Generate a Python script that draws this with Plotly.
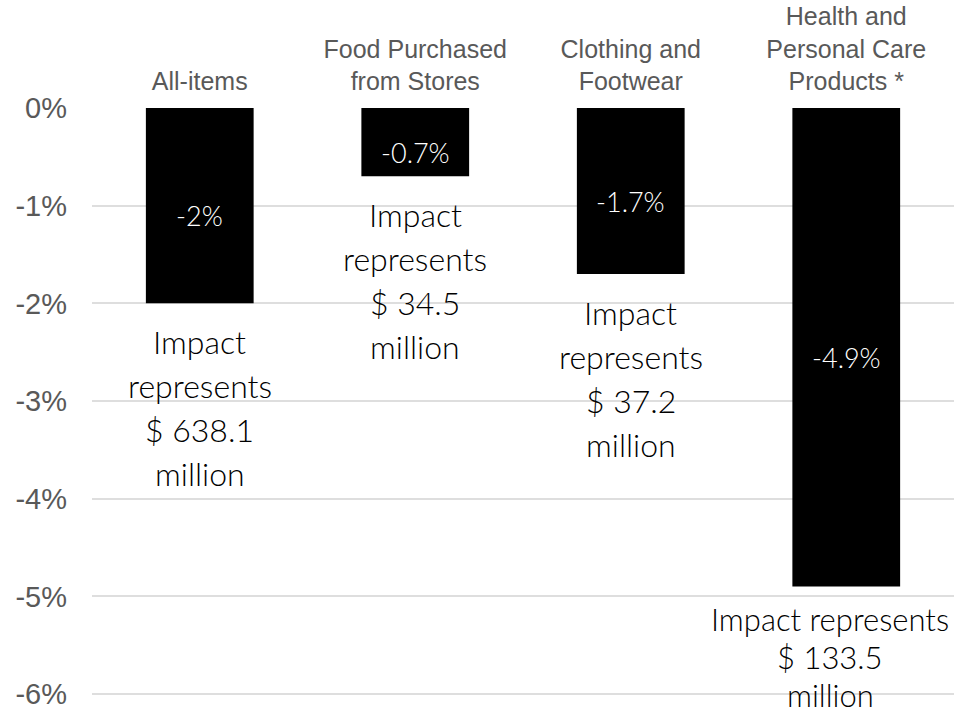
import plotly.graph_objects as go

categories = ["All-items", "Food Purchased<br>from Stores", "Clothing and<br>Footwear",
              "Health and<br>Personal Care<br>Products *"]
values = [-2.0, -0.7, -1.7, -4.9]
value_labels = ["-2%", "-0.7%", "-1.7%", "-4.9%"]
impact_lines = [["Impact", "represents", "$ 638.1", "million"],
                ["Impact", "represents", "$ 34.5", "million"],
                ["Impact", "represents", "$ 37.2", "million"],
                ["Impact represents", "$ 133.5", "million"]]
y_tickvals = [0, -1, -2, -3, -4, -5, -6]
y_ticktext = ["0%", "-1%", "-2%", "-3%", "-4%", "-5%", "-6%"]

fig = go.Figure()
fig.add_trace(go.Bar(x=categories, y=values, marker=dict(color="#000000", line=dict(width=0)),
                     width=0.5, hoverinfo="skip"))

annos = []
for i, (c, v) in enumerate(zip(categories, values)):
    annos.append(dict(x=c, y=v / 2, xref="x", yref="y", text=value_labels[i], showarrow=False,
                      yshift=-10, font=dict(family="Lato", size=27, color="#ffffff", weight=300)))
    first = 32 if i == 3 else 38
    step = 38 if i == 3 else 44
    size = 31 if i == 3 else 32
    for j, line in enumerate(impact_lines[i]):
        annos.append(dict(x=c, y=v, xref="x", yref="y", text=line, showarrow=False,
                          yanchor="middle", yshift=-(first + step * j),
                          xshift=(-16 if i == 3 else 0),
                          font=dict(family="Lato", size=size, color="#000000", weight=300)))

fig.update_layout(
    width=954, height=713,
    margin=dict(l=92, r=0, t=108, b=17),
    paper_bgcolor="#ffffff", plot_bgcolor="#ffffff",
    showlegend=False,
    annotations=annos,
    xaxis=dict(side="top", showgrid=False, zeroline=False, showline=False, ticks="",
               tickfont=dict(family="Liberation Sans", size=25, color="#595959"),
               ticklabelstandoff=12),
    yaxis=dict(range=[-6.02, 0], tickvals=y_tickvals, ticktext=y_ticktext,
               showgrid=True, gridcolor="#dedede", gridwidth=2, zeroline=False,
               showline=False, ticks="",
               tickfont=dict(family="Liberation Sans", size=29, color="#595959"),
               ticklabelstandoff=24),
)

fig.write_html("out.html")
